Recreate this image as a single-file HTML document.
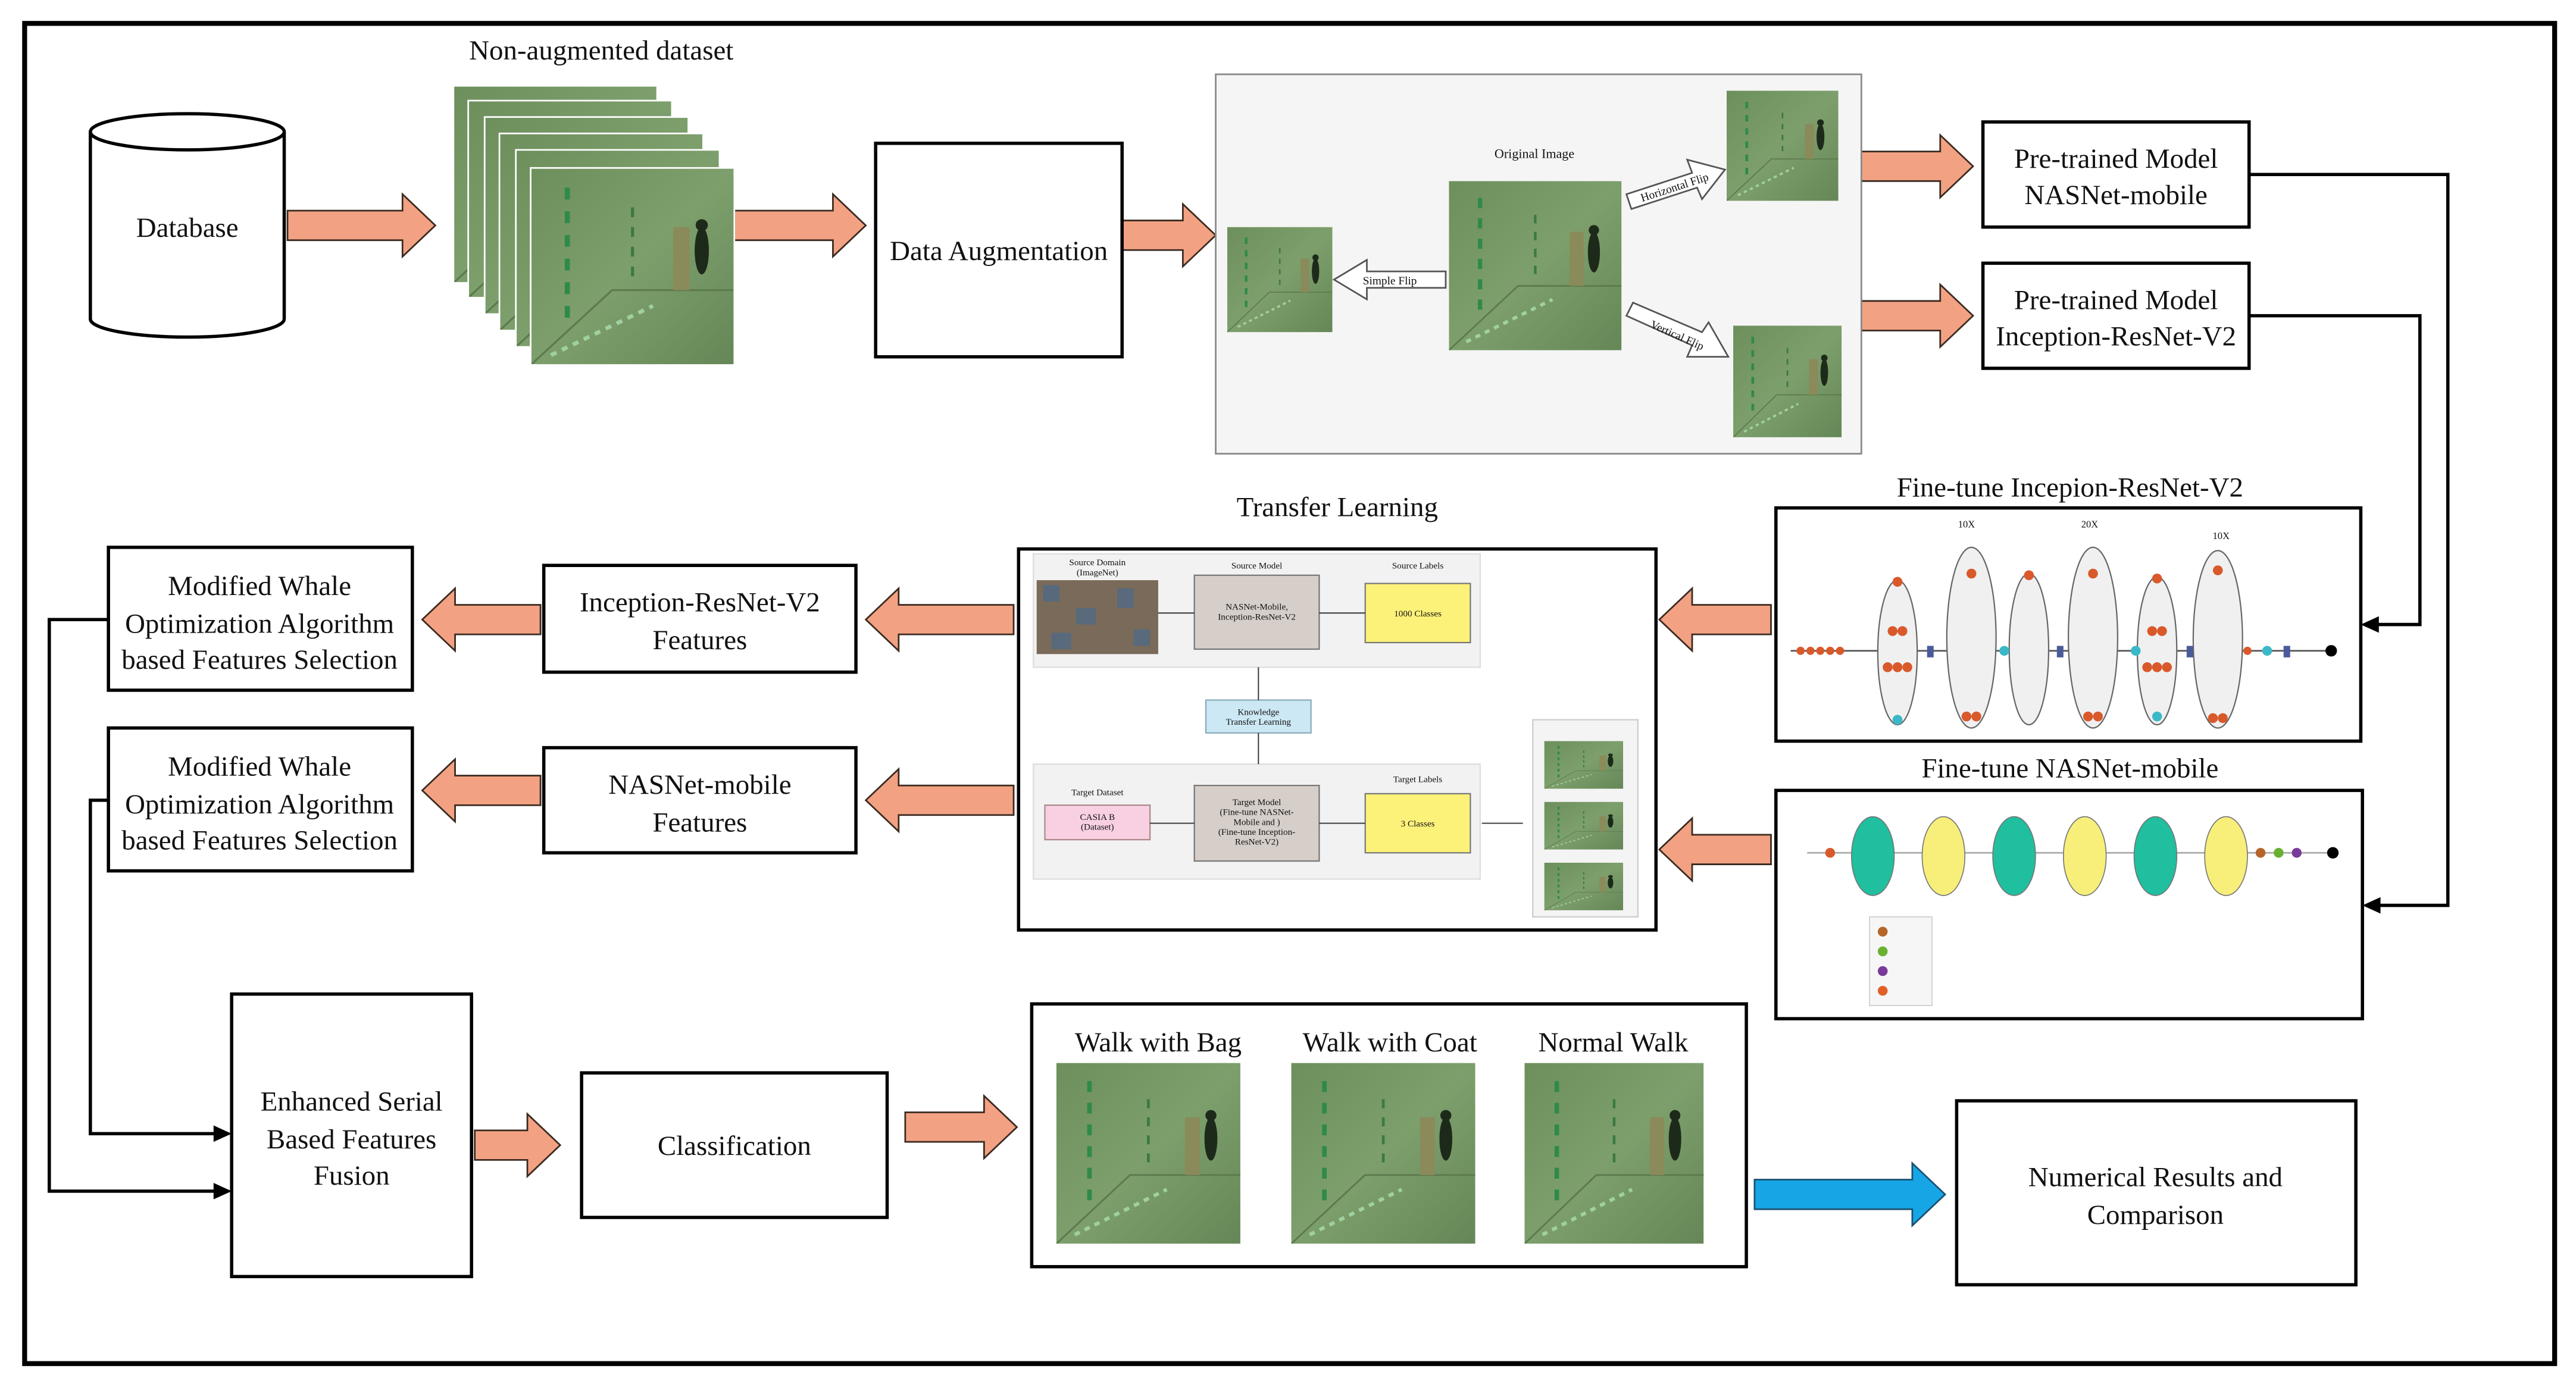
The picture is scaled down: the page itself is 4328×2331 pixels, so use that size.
<!DOCTYPE html>
<html><head><meta charset="utf-8"><style>
html,body{margin:0;padding:0;background:#fff}
svg{display:block}
text{font-family:"Liberation Serif",serif;fill:#111}
</style></head><body>
<svg width="4328" height="2331" viewBox="0 0 1568 844" xmlns="http://www.w3.org/2000/svg">
<defs>
<linearGradient id="g" x1="0" y1="0" x2="1" y2="1"><stop offset="0" stop-color="#6d8f5c"/><stop offset="0.5" stop-color="#7d9f6c"/><stop offset="1" stop-color="#658757"/></linearGradient>
<symbol id="im" viewBox="0 0 100 100" preserveAspectRatio="none">
<g stroke="none">
<rect width="100" height="100" fill="url(#g)"/>
<path d="M0 100 L40 62 L100 62" stroke="#5c7c4e" stroke-width="1" fill="none"/>
<line x1="18" y1="10" x2="18" y2="80" stroke="#2f8a4a" stroke-width="2.5" stroke-dasharray="6 6"/>
<line x1="50" y1="20" x2="50" y2="60" stroke="#3a7a42" stroke-width="1.5" stroke-dasharray="5 5"/>
<line x1="10" y1="95" x2="60" y2="70" stroke="#9fd0a0" stroke-width="2" stroke-dasharray="3 3"/>
<rect x="70" y="30" width="8" height="32" fill="#8a8a5a"/>
<ellipse cx="84" cy="42" rx="3.5" ry="12" fill="#1d2a1a"/><circle cx="84" cy="29" r="3" fill="#1d2a1a"/>
</g>
</symbol>
</defs>
<rect x="15" y="14" width="1540" height="816" fill="#fff" stroke="#000" stroke-width="3"/>

<path d="M55 80 L55 194 A59 11 0 0 0 173 194 L173 80" fill="#fff" stroke="#000" stroke-width="2"/>
<ellipse cx="114" cy="80" rx="59" ry="11" fill="#fff" stroke="#000" stroke-width="2"/>
<text x="114" y="144" font-size="17" text-anchor="middle">Database</text>

<g fill="#f2a283" stroke="#3a2a20" stroke-width="1">
<polygon points="175,128 245,128 245,118 265,137 245,156 245,146 175,146"/>
<polygon points="447,128 507,128 507,118 527,137 507,156 507,146 447,146"/>
<polygon points="683,134 720,134 720,124 740,143 720,162 720,152 683,152"/>
<polygon points="1131,92 1181,92 1181,82 1201,101 1181,120 1181,110 1131,110"/>
<polygon points="1131,183 1181,183 1181,173 1201,192 1181,211 1181,201 1131,201"/>
<polygon points="1078,368 1030,368 1030,358 1010,377 1030,396 1030,386 1078,386"/>
<polygon points="1078,508 1030,508 1030,498 1010,517 1030,536 1030,526 1078,526"/>
<polygon points="617,368 547,368 547,358 527,377 547,396 547,386 617,386"/>
<polygon points="617,478 547,478 547,468 527,487 547,506 547,496 617,496"/>
<polygon points="329,368 277,368 277,358 257,377 277,396 277,386 329,386"/>
<polygon points="329,472 277,472 277,462 257,481 277,500 277,490 329,490"/>
<polygon points="289,688 321,688 321,678 341,697 321,716 321,706 289,706"/>
<polygon points="551,677 599,677 599,667 619,686 599,705 599,695 551,695"/>
</g>
<polygon points="1068,718 1164,718 1164,708 1184,727 1164,746 1164,736 1068,736" fill="#16a6e6" stroke="#1a5070" stroke-width="1"/>

<text x="366" y="36" font-size="17" text-anchor="middle">Non-augmented dataset</text>
<g>
<use href="#im" x="276" y="52" width="124" height="120"/><rect x="276" y="52" width="124" height="120" fill="none" stroke="#fff" stroke-width="1"/>
<use href="#im" x="285" y="61" width="124" height="120"/><rect x="285" y="61" width="124" height="120" fill="none" stroke="#fff" stroke-width="1"/>
<use href="#im" x="295" y="71" width="124" height="120"/><rect x="295" y="71" width="124" height="120" fill="none" stroke="#fff" stroke-width="1"/>
<use href="#im" x="304" y="81" width="124" height="120"/><rect x="304" y="81" width="124" height="120" fill="none" stroke="#fff" stroke-width="1"/>
<use href="#im" x="314" y="91" width="124" height="120"/><rect x="314" y="91" width="124" height="120" fill="none" stroke="#fff" stroke-width="1"/>
<use href="#im" x="323" y="102" width="124" height="120"/><rect x="323" y="102" width="124" height="120" fill="none" stroke="#fff" stroke-width="1"/>
</g>

<rect x="533" y="87" width="150" height="130" fill="#fff" stroke="#000" stroke-width="2"/>
<text x="608" y="158" font-size="17" text-anchor="middle">Data Augmentation</text>

<rect x="740" y="45" width="393" height="231" fill="#f5f5f5" stroke="#888" stroke-width="1"/>
<text x="934" y="96" font-size="8" text-anchor="middle">Original Image</text>
<use href="#im" x="882" y="110" width="105" height="103"/>
<use href="#im" x="747" y="138" width="64" height="64"/>
<use href="#im" x="1051" y="55" width="68" height="67"/>
<use href="#im" x="1055" y="198" width="66" height="68"/>
<g fill="#fff" stroke="#555" stroke-width="1">
<polygon points="880,165 832,165 832,158 812,170 832,182 832,175 880,175"/>
<polygon points="990,118 1030,105 1027,97 1050,103 1036,121 1033,114 993,127"/>
<polygon points="990,192 1030,210 1027,217 1052,217 1040,196 1036,202 994,184"/>
</g>
<text x="846" y="173" font-size="7" text-anchor="middle">Simple Flip</text>
<text x="1020" y="116" font-size="7" text-anchor="middle" transform="rotate(-18 1020 116)">Horizontal Flip</text>
<text x="1020" y="206" font-size="7" text-anchor="middle" transform="rotate(24 1020 206)">Vertical Flip</text>

<rect x="1207" y="74" width="162" height="64" fill="#fff" stroke="#000" stroke-width="2"/>
<text x="1288" y="102" font-size="17" text-anchor="middle">Pre-trained Model</text>
<text x="1288" y="124" font-size="17" text-anchor="middle">NASNet-mobile</text>
<rect x="1207" y="160" width="162" height="64" fill="#fff" stroke="#000" stroke-width="2"/>
<text x="1288" y="188" font-size="17" text-anchor="middle">Pre-trained Model</text>
<text x="1288" y="210" font-size="17" text-anchor="middle">Inception-ResNet-V2</text>

<g fill="none" stroke="#000" stroke-width="2">
<polyline points="1369,106 1490,106 1490,551 1448,551"/>
<polyline points="1369,192 1473,192 1473,380 1445,380"/>
<polyline points="66,377 30,377 30,725 133,725"/>
<polyline points="66,487 55,487 55,690 133,690"/>
</g>
<g fill="#000">
<polygon points="1438,551 1449,546 1449,556"/>
<polygon points="1437,380 1448,375 1448,385"/>
<polygon points="141,725 130,720 130,730"/>
<polygon points="141,690 130,685 130,695"/>
</g>

<text x="1260" y="302" font-size="17" text-anchor="middle">Fine-tune Incepion-ResNet-V2</text>
<rect x="1081" y="309" width="356" height="142" fill="#fff" stroke="#000" stroke-width="2"/>
<line x1="1090" y1="396" x2="1420" y2="396" stroke="#555" stroke-width="1"/>
<g fill="#f0f0f0" stroke="#666" stroke-width="0.8">
<ellipse cx="1155" cy="397" rx="12" ry="44"/>
<ellipse cx="1200" cy="388" rx="15" ry="55"/>
<ellipse cx="1235" cy="395" rx="12" ry="46"/>
<ellipse cx="1274" cy="388" rx="15" ry="55"/>
<ellipse cx="1313" cy="396" rx="12" ry="45"/>
<ellipse cx="1350" cy="389" rx="15" ry="54"/>
</g>
<g fill="#d9592b">
<circle cx="1096" cy="396" r="2.5"/><circle cx="1102" cy="396" r="2.5"/><circle cx="1108" cy="396" r="2.5"/><circle cx="1114" cy="396" r="2.5"/><circle cx="1120" cy="396" r="2.5"/>
<circle cx="1155" cy="354" r="3"/><circle cx="1152" cy="384" r="3"/><circle cx="1158" cy="384" r="3"/><circle cx="1149" cy="406" r="3"/><circle cx="1155" cy="406" r="3"/><circle cx="1161" cy="406" r="3"/>
<circle cx="1200" cy="349" r="3"/><circle cx="1197" cy="436" r="3"/><circle cx="1203" cy="436" r="3"/>
<circle cx="1235" cy="350" r="3"/><circle cx="1274" cy="349" r="3"/><circle cx="1271" cy="436" r="3"/><circle cx="1277" cy="436" r="3"/>
<circle cx="1313" cy="352" r="3"/><circle cx="1310" cy="384" r="3"/><circle cx="1316" cy="384" r="3"/><circle cx="1307" cy="406" r="3"/><circle cx="1313" cy="406" r="3"/><circle cx="1319" cy="406" r="3"/>
<circle cx="1350" cy="347" r="3"/><circle cx="1347" cy="437" r="3"/><circle cx="1353" cy="437" r="3"/><circle cx="1368" cy="396" r="2.5"/>
</g>
<g fill="#3bb8c8"><circle cx="1155" cy="438" r="3"/><circle cx="1220" cy="396" r="3"/><circle cx="1300" cy="396" r="3"/><circle cx="1313" cy="436" r="3"/><circle cx="1380" cy="396" r="3"/></g>
<g fill="#4a5a9a"><rect x="1173" y="393" width="4" height="7"/><rect x="1252" y="393" width="4" height="7"/><rect x="1331" y="393" width="4" height="7"/><rect x="1390" y="393" width="4" height="7"/></g>
<circle cx="1419" cy="396" r="3.5" fill="#000"/>
<text x="1197" y="321" font-size="6" text-anchor="middle">10X</text>
<text x="1272" y="321" font-size="6" text-anchor="middle">20X</text>
<text x="1352" y="328" font-size="6" text-anchor="middle">10X</text>

<text x="1260" y="473" font-size="17" text-anchor="middle">Fine-tune NASNet-mobile</text>
<rect x="1081" y="481" width="357" height="139" fill="#fff" stroke="#000" stroke-width="2"/>
<line x1="1100" y1="519" x2="1420" y2="519" stroke="#aaa" stroke-width="1"/>
<circle cx="1114" cy="519" r="3" fill="#d9592b"/>
<g stroke="#777" stroke-width="0.6">
<ellipse cx="1140" cy="521" rx="13" ry="24" fill="#1fbf9f"/>
<ellipse cx="1183" cy="521" rx="13" ry="24" fill="#f7ef7a"/>
<ellipse cx="1226" cy="521" rx="13" ry="24" fill="#1fbf9f"/>
<ellipse cx="1269" cy="521" rx="13" ry="24" fill="#f7ef7a"/>
<ellipse cx="1312" cy="521" rx="13" ry="24" fill="#1fbf9f"/>
<ellipse cx="1355" cy="521" rx="13" ry="24" fill="#f7ef7a"/>
</g>
<circle cx="1376" cy="519" r="3" fill="#b5652a"/><circle cx="1387" cy="519" r="3" fill="#6ab033"/><circle cx="1398" cy="519" r="3" fill="#7a3a9a"/><circle cx="1420" cy="519" r="3.5" fill="#000"/>
<rect x="1138" y="558" width="38" height="54" fill="#f6f6f6" stroke="#ccc" stroke-width="0.6"/>
<circle cx="1146" cy="567" r="3" fill="#b5652a"/><circle cx="1146" cy="579" r="3" fill="#6ab033"/><circle cx="1146" cy="591" r="3" fill="#7a3a9a"/><circle cx="1146" cy="603" r="3" fill="#e0602a"/>

<text x="814" y="314" font-size="17" text-anchor="middle">Transfer Learning</text>
<rect x="620" y="334" width="388" height="232" fill="#fff" stroke="#000" stroke-width="2"/>
<rect x="629" y="337" width="272" height="69" fill="#f2f2f2" stroke="#ddd" stroke-width="0.8"/>
<rect x="629" y="465" width="272" height="70" fill="#f2f2f2" stroke="#ddd" stroke-width="0.8"/>
<rect x="631" y="353" width="74" height="45" fill="#7a6a5a"/>
<g fill="#4a6a8a" opacity="0.7"><rect x="635" y="356" width="10" height="10"/><rect x="655" y="370" width="12" height="10"/><rect x="680" y="358" width="10" height="12"/><rect x="690" y="383" width="10" height="10"/><rect x="640" y="385" width="12" height="10"/></g>
<rect x="727" y="350" width="76" height="45" fill="#d6cfc9" stroke="#777" stroke-width="0.8"/>
<rect x="831" y="355" width="64" height="36" fill="#fcf27a" stroke="#777" stroke-width="0.8"/>
<rect x="734" y="426" width="64" height="20" fill="#cce8f4" stroke="#8ab" stroke-width="0.8"/>
<rect x="636" y="490" width="64" height="21" fill="#f8d0e2" stroke="#a88" stroke-width="0.8"/>
<rect x="727" y="478" width="76" height="46" fill="#d6cfc9" stroke="#777" stroke-width="0.8"/>
<rect x="831" y="483" width="64" height="36" fill="#fcf27a" stroke="#777" stroke-width="0.8"/>
<g stroke="#333" stroke-width="0.7"><line x1="705" y1="373" x2="727" y2="373"/><line x1="803" y1="373" x2="831" y2="373"/><line x1="766" y1="406" x2="766" y2="426"/><line x1="766" y1="446" x2="766" y2="465"/><line x1="700" y1="501" x2="727" y2="501"/><line x1="803" y1="501" x2="831" y2="501"/><line x1="902" y1="501" x2="927" y2="501"/></g>
<g font-size="5.5" text-anchor="middle">
<text x="668" y="344">Source Domain</text><text x="668" y="350">(ImageNet)</text>
<text x="765" y="346">Source Model</text><text x="863" y="346">Source Labels</text>
<text x="765" y="371">NASNet-Mobile,</text><text x="765" y="377">Inception-ResNet-V2</text>
<text x="863" y="375">1000 Classes</text>
<text x="766" y="435">Knowledge</text><text x="766" y="441">Transfer Learning</text>
<text x="668" y="484">Target Dataset</text><text x="863" y="476">Target Labels</text>
<text x="668" y="499">CASIA B</text><text x="668" y="505">(Dataset)</text>
<text x="765" y="490">Target Model</text><text x="765" y="496">(Fine-tune NASNet-</text><text x="765" y="502">Mobile and )</text><text x="765" y="508">(Fine-tune Inception-</text><text x="765" y="514">ResNet-V2)</text>
<text x="863" y="503">3 Classes</text>
<text x="965" y="448">Walk with Bag</text><text x="965" y="486">Walk with Coat</text><text x="965" y="523">Normal Walk</text>
</g>
<rect x="933" y="438" width="64" height="120" fill="#f4f4f4" stroke="#ccc" stroke-width="0.8"/>
<use href="#im" x="940" y="451" width="48" height="29"/>
<use href="#im" x="940" y="488" width="48" height="29"/>
<use href="#im" x="940" y="525" width="48" height="29"/>

<rect x="331" y="344" width="190" height="65" fill="#fff" stroke="#000" stroke-width="2"/>
<text x="426" y="372" font-size="17" text-anchor="middle">Inception-ResNet-V2</text>
<text x="426" y="395" font-size="17" text-anchor="middle">Features</text>
<rect x="331" y="455" width="190" height="64" fill="#fff" stroke="#000" stroke-width="2"/>
<text x="426" y="483" font-size="17" text-anchor="middle">NASNet-mobile</text>
<text x="426" y="506" font-size="17" text-anchor="middle">Features</text>

<rect x="66" y="333" width="185" height="87" fill="#fff" stroke="#000" stroke-width="2"/>
<text x="158" y="362" font-size="17" text-anchor="middle">Modified Whale</text>
<text x="158" y="385" font-size="17" text-anchor="middle">Optimization Algorithm</text>
<text x="158" y="407" font-size="17" text-anchor="middle">based Features Selection</text>
<rect x="66" y="443" width="185" height="87" fill="#fff" stroke="#000" stroke-width="2"/>
<text x="158" y="472" font-size="17" text-anchor="middle">Modified Whale</text>
<text x="158" y="495" font-size="17" text-anchor="middle">Optimization Algorithm</text>
<text x="158" y="517" font-size="17" text-anchor="middle">based Features Selection</text>

<rect x="141" y="605" width="146" height="172" fill="#fff" stroke="#000" stroke-width="2"/>
<text x="214" y="676" font-size="17" text-anchor="middle">Enhanced Serial</text>
<text x="214" y="699" font-size="17" text-anchor="middle">Based Features</text>
<text x="214" y="721" font-size="17" text-anchor="middle">Fusion</text>

<rect x="354" y="653" width="186" height="88" fill="#fff" stroke="#000" stroke-width="2"/>
<text x="447" y="703" font-size="17" text-anchor="middle">Classification</text>

<rect x="628" y="611" width="435" height="160" fill="#fff" stroke="#000" stroke-width="2"/>
<text x="705" y="640" font-size="17" text-anchor="middle">Walk with Bag</text>
<text x="846" y="640" font-size="17" text-anchor="middle">Walk with Coat</text>
<text x="982" y="640" font-size="17" text-anchor="middle">Normal Walk</text>
<use href="#im" x="643" y="647" width="112" height="110"/>
<use href="#im" x="786" y="647" width="112" height="110"/>
<use href="#im" x="928" y="647" width="109" height="110"/>

<rect x="1191" y="670" width="243" height="112" fill="#fff" stroke="#000" stroke-width="2"/>
<text x="1312" y="722" font-size="17" text-anchor="middle">Numerical Results and</text>
<text x="1312" y="745" font-size="17" text-anchor="middle">Comparison</text>
</svg>
</body></html>
